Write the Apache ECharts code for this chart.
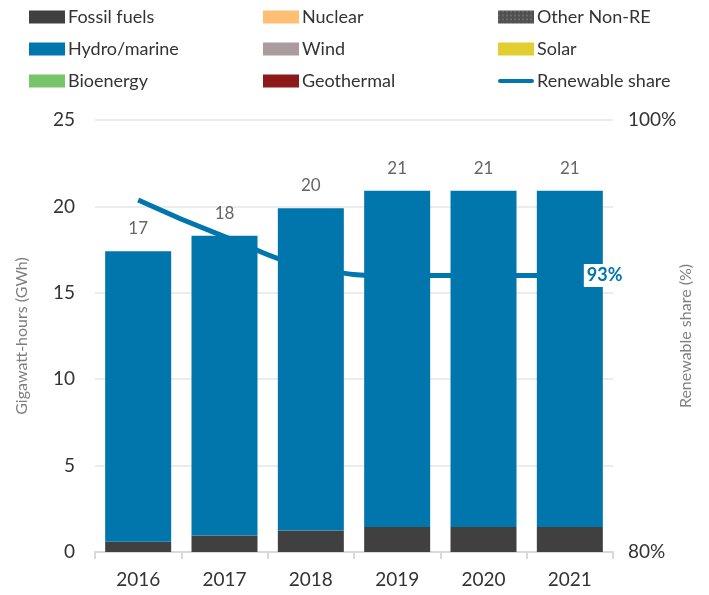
<!DOCTYPE html>
<html>
<head>
<meta charset="utf-8">
<script src="https://cdn.jsdelivr.net/npm/echarts@6/dist/echarts.min.js"></script>
<style>
  html, body { margin: 0; padding: 0; background: #fff; }
  #myChart { width: 709px; height: 595px; }
</style>
</head>
<body>
<div id="myChart"></div>
<script>
  // values
  var years = ['2016', '2017', '2018', '2019', '2020', '2021']
  var fossil = [0.6, 0.95, 1.25, 1.45, 1.45, 1.45]
  var hydro = [16.8, 17.35, 18.65, 19.45, 19.45, 19.45]
  var nuclear = [0, 0, 0, 0, 0, 0]
  var otherNonRE = [0, 0, 0, 0, 0, 0]
  var wind = [0, 0, 0, 0, 0, 0]
  var solar = [0, 0, 0, 0, 0, 0]
  var bioenergy = [0, 0, 0, 0, 0, 0]
  var geothermal = [0, 0, 0, 0, 0, 0]
  var totals = [17, 18, 20, 21, 21, 21]
  var reShare = [96.3, 94.6, 93.2, 92.8, 92.8, 92.8]
  var shareLabel = '93%'

  var font = 'Lato'
  var blue = '#0076AD'

  function barSeries(name, data, color, extra) {
    var s = {
      name: name,
      type: 'bar',
      stack: 'gen',
      barWidth: 66,
      itemStyle: {color: color},
      data: data
    }
    if (extra) Object.assign(s, extra)
    return s
  }

  var legendBase = {
    orient: 'vertical',
    icon: 'rect',
    itemWidth: 36,
    itemHeight: 13,
    itemGap: 14,
    textStyle: {fontFamily: font, fontSize: 18, color: '#333', padding: [0, 0, 0, -2]}
  }

  var myChart = echarts.init(document.getElementById('myChart'))
  myChart.setOption({
    animation: false,
    textStyle: {fontFamily: font},
    legend: [
      Object.assign({left: 24, top: 3, data: ['Fossil fuels', 'Hydro/marine', 'Bioenergy']}, legendBase),
      Object.assign({left: 258, top: 3, data: ['Nuclear', 'Wind', 'Geothermal']}, legendBase),
      Object.assign({left: 493, top: 3, data: ['Other Non-RE', 'Solar', {name: 'Renewable share', icon: 'path://M2,5 L34,5 A2,2 0 0 1 34,9 L2,9 A2,2 0 0 1 2,5 Z'}]}, legendBase)
    ],
    grid: {left: 95, right: 96, top: 120, bottom: 43},
    xAxis: {
      type: 'category',
      data: years,
      axisLine: {lineStyle: {color: '#d9d9d9', width: 2}},
      axisTick: {show: true, length: 7, lineStyle: {color: '#d9d9d9', width: 2}},
      axisLabel: {color: '#333', fontSize: 19, margin: 18}
    },
    yAxis: [
      {
        type: 'value',
        min: 0,
        max: 25,
        interval: 5,
        name: 'Gigawatt-hours (GWh)',
        nameLocation: 'middle',
        nameMoveOverlap: false,
        nameGap: 65,
        nameTextStyle: {color: '#7f7f7f', fontSize: 16},
        axisLabel: {color: '#333', fontSize: 19, margin: 20},
        splitLine: {lineStyle: {color: '#ececec', width: 2}}
      },
      {
        type: 'value',
        min: 80,
        max: 100,
        interval: 20,
        name: 'Renewable share (%)',
        nameLocation: 'middle',
        nameMoveOverlap: false,
        nameRotate: 90,
        nameGap: 65,
        nameTextStyle: {color: '#7f7f7f', fontSize: 16},
        axisLabel: {color: '#333', fontSize: 19, margin: 15, formatter: '{value}%'},
        splitLine: {show: false}
      }
    ],
    series: [
      barSeries('Fossil fuels', fossil, '#404040'),
      barSeries('Hydro/marine', hydro, blue, {
        label: {
          show: true,
          position: 'top',
          distance: 14,
          color: '#666',
          fontSize: 17,
          formatter: function (p) { return totals[p.dataIndex] }
        }
      }),
      barSeries('Nuclear', nuclear, '#FDBF73'),
      barSeries('Wind', wind, '#AA9B9C'),
      barSeries('Other Non-RE', otherNonRE, '#505050', {
        itemStyle: {
          color: '#505050',
          decal: {symbol: 'rect', symbolSize: 0.5, color: 'rgba(255,255,255,0.55)', dashArrayX: [2, 2], dashArrayY: [2, 2]}
        }
      }),
      barSeries('Solar', solar, '#E3CE31'),
      barSeries('Bioenergy', bioenergy, '#78C46B'),
      barSeries('Geothermal', geothermal, '#8C1A1A'),
      {
        name: 'Renewable share',
        type: 'line',
        yAxisIndex: 1,
        smooth: true,
        symbol: 'none',
        z: 5,
        lineStyle: {color: blue, width: 5},
        itemStyle: {color: blue},
        endLabel: {
          show: true,
          distance: 14,
          formatter: shareLabel,
          color: blue,
          fontWeight: 'bold',
          fontSize: 18,
          backgroundColor: '#fff',
          padding: [3, 3, 2, 3]
        },
        data: reShare
      }
    ]
  })
</script>
</body>
</html>
